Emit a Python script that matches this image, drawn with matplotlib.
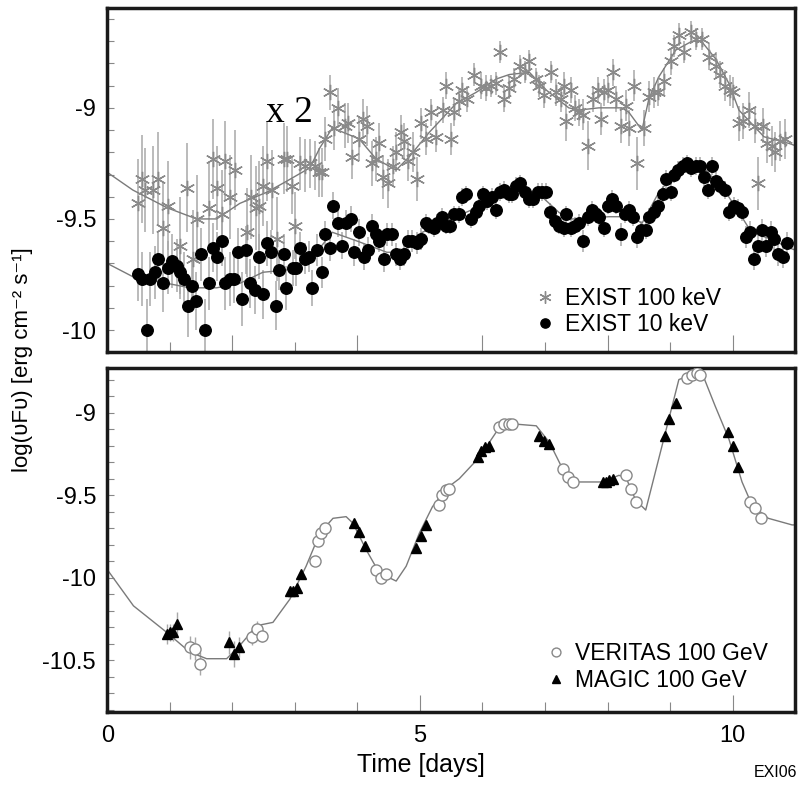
import numpy as np
import matplotlib
matplotlib.use('Agg')
import matplotlib.pyplot as plt
from matplotlib.ticker import MultipleLocator, FixedLocator

plt.rcParams['font.family'] = ['Liberation Sans', 'DejaVu Sans']

# ---- top panel: EXIST 100 keV (x2) ----
hard_day = [0.49, 0.56, 0.61, 0.74, 0.82, 0.90, 0.98, 1.17, 1.28, 1.37, 1.44, 1.62, 1.69, 1.75,
            1.83, 1.89, 1.97, 2.05, 2.23, 2.30, 2.38, 2.43, 2.49, 2.56, 2.63, 2.71, 2.82, 2.87,
            2.96, 3.01, 3.09, 3.17, 3.24, 3.32, 3.39, 3.44, 3.49, 3.56, 3.62, 3.69, 3.80, 3.85,
            3.92, 4.02, 4.09, 4.15, 4.24, 4.30, 4.34, 4.41, 4.49, 4.57, 4.62, 4.70, 4.75, 4.81,
            4.89, 4.95, 5.02, 5.10, 5.18, 5.26, 5.37, 5.41, 5.50, 5.55, 5.63, 5.68, 5.76, 5.87,
            5.98, 6.06, 6.14, 6.22, 6.28, 6.35, 6.43, 6.51, 6.60, 6.68, 6.75, 6.85, 6.91, 6.99,
            7.09, 7.17, 7.25, 7.31, 7.34, 7.41, 7.48, 7.54, 7.60, 7.68, 7.76, 7.84, 7.89, 7.94,
            8.01, 8.08, 8.13, 8.21, 8.29, 8.34, 8.42, 8.47, 8.58, 8.66, 8.74, 8.81, 8.90, 9.01,
            9.06, 9.14, 9.22, 9.33, 9.41, 9.51, 9.62, 9.73, 9.80, 9.88, 9.96, 10.01, 10.10, 10.17,
            10.26, 10.36, 10.40, 10.48, 10.55, 10.63, 10.68, 10.76, 10.84]
hard_flux = [-9.43, -9.32, -9.37, -9.37, -9.32, -9.54, -9.44, -9.62, -9.36, -9.68, -9.50, -9.45, -9.23, -9.36,
             -9.48, -9.24, -9.40, -9.28, -9.56, -9.40, -9.45, -9.44, -9.35, -9.24, -9.37, -9.59, -9.23, -9.23,
             -9.35, -9.53, -9.25, -9.26, -9.25, -9.26, -9.29, -9.29, -9.14, -8.93, -9.09, -9.00, -9.08, -9.07,
             -9.22, -9.14, -9.05, -9.08, -9.25, -9.23, -9.16, -9.31, -9.34, -9.26, -9.20, -9.11, -9.15, -9.24,
             -9.20, -9.32, -9.07, -9.14, -9.02, -9.13, -9.01, -8.90, -9.14, -9.02, -8.97, -8.92, -8.96, -8.85,
             -8.90, -8.91, -8.90, -8.89, -8.75, -8.96, -8.91, -8.87, -8.81, -8.84, -8.79, -8.87, -8.90, -8.94,
             -8.84, -8.93, -8.96, -8.90, -9.06, -8.92, -9.00, -9.02, -9.03, -9.17, -8.96, -8.92, -9.05, -8.93,
             -8.92, -8.84, -8.96, -9.08, -8.99, -9.09, -8.90, -9.25, -9.09, -8.95, -8.93, -8.93, -8.88, -8.79,
             -8.72, -8.67, -8.75, -8.66, -8.69, -8.69, -8.77, -8.81, -8.85, -8.90, -8.92, -8.93, -9.07, -9.06,
             -9.01, -9.08, -9.34, -9.08, -9.16, -9.17, -9.20, -9.15, -9.14]
hard_err = [0.20, 0.20, 0.19, 0.20, 0.21, 0.20, 0.20, 0.22, 0.20, 0.22, 0.20, 0.20, 0.18, 0.19,
            0.20, 0.18, 0.19, 0.18, 0.20, 0.19, 0.19, 0.20, 0.18, 0.18, 0.18, 0.19, 0.16, 0.15,
            0.13, 0.15, 0.12, 0.12, 0.11, 0.11, 0.11, 0.11, 0.10, 0.08, 0.10, 0.09, 0.10, 0.09,
            0.10, 0.10, 0.09, 0.09, 0.10, 0.10, 0.09, 0.10, 0.11, 0.09, 0.09, 0.08, 0.08, 0.09,
            0.09, 0.10, 0.07, 0.07, 0.06, 0.07, 0.06, 0.06, 0.07, 0.06, 0.06, 0.06, 0.06, 0.05,
            0.06, 0.06, 0.05, 0.05, 0.05, 0.06, 0.05, 0.05, 0.05, 0.05, 0.05, 0.05, 0.05, 0.06,
            0.05, 0.06, 0.06, 0.06, 0.09, 0.06, 0.06, 0.06, 0.07, 0.11, 0.06, 0.06, 0.07, 0.06,
            0.06, 0.06, 0.06, 0.08, 0.07, 0.08, 0.07, 0.12, 0.08, 0.07, 0.07, 0.06, 0.06, 0.06,
            0.05, 0.05, 0.05, 0.05, 0.05, 0.05, 0.06, 0.06, 0.06, 0.07, 0.07, 0.07, 0.08, 0.08,
            0.08, 0.08, 0.12, 0.08, 0.09, 0.09, 0.09, 0.09, 0.09]

# ---- top panel: EXIST 10 keV ----
soft_day = [0.49, 0.56, 0.63, 0.69, 0.77, 0.82, 0.90, 0.97, 1.04, 1.11, 1.17, 1.23, 1.29, 1.36,
            1.42, 1.50, 1.56, 1.63, 1.69, 1.75, 1.83, 1.89, 1.96, 2.02, 2.09, 2.15, 2.22, 2.29,
            2.37, 2.42, 2.49, 2.55, 2.62, 2.70, 2.75, 2.82, 2.86, 2.97, 3.02, 3.09, 3.16, 3.23,
            3.28, 3.35, 3.43, 3.49, 3.56, 3.61, 3.69, 3.76, 3.82, 3.89, 3.95, 4.02, 4.10, 4.17,
            4.24, 4.30, 4.35, 4.42, 4.47, 4.56, 4.62, 4.68, 4.75, 4.81, 4.88, 4.95, 5.02, 5.09,
            5.15, 5.22, 5.28, 5.35, 5.42, 5.48, 5.55, 5.63, 5.68, 5.74, 5.82, 5.89, 5.95, 6.01,
            6.08, 6.15, 6.22, 6.28, 6.35, 6.42, 6.48, 6.53, 6.60, 6.68, 6.75, 6.81, 6.88, 6.95,
            7.02, 7.08, 7.16, 7.23, 7.30, 7.34, 7.41, 7.48, 7.54, 7.60, 7.68, 7.75, 7.81, 7.87,
            7.94, 8.01, 8.07, 8.14, 8.21, 8.28, 8.34, 8.40, 8.47, 8.54, 8.61, 8.67, 8.74, 8.81,
            8.88, 8.94, 9.01, 9.06, 9.13, 9.20, 9.27, 9.34, 9.41, 9.47, 9.54, 9.61, 9.67, 9.73,
            9.80, 9.87, 9.94, 10.02, 10.09, 10.15, 10.21, 10.27, 10.34, 10.41, 10.47, 10.54, 10.61, 10.66,
            10.73, 10.80, 10.87]
soft_flux = [-9.75, -9.77, -10.00, -9.77, -9.74, -9.68, -9.79, -9.72, -9.69, -9.71, -9.74, -9.77, -9.89, -9.80,
             -9.87, -9.66, -10.00, -9.79, -9.63, -9.67, -9.60, -9.79, -9.77, -9.77, -9.65, -9.86, -9.64, -9.79,
             -9.82, -9.67, -9.84, -9.61, -9.65, -9.89, -9.73, -9.66, -9.81, -9.72, -9.72, -9.63, -9.68, -9.67,
             -9.81, -9.64, -9.74, -9.57, -9.63, -9.44, -9.52, -9.62, -9.52, -9.50, -9.65, -9.56, -9.67, -9.64,
             -9.53, -9.57, -9.60, -9.68, -9.57, -9.57, -9.66, -9.68, -9.66, -9.60, -9.60, -9.61, -9.59, -9.52,
             -9.53, -9.54, -9.52, -9.49, -9.53, -9.53, -9.48, -9.48, -9.40, -9.39, -9.50, -9.47, -9.44, -9.39,
             -9.42, -9.40, -9.46, -9.38, -9.37, -9.39, -9.39, -9.35, -9.34, -9.38, -9.41, -9.41, -9.38, -9.38,
             -9.38, -9.47, -9.51, -9.53, -9.54, -9.48, -9.54, -9.53, -9.52, -9.60, -9.49, -9.46, -9.48, -9.49,
             -9.54, -9.44, -9.41, -9.44, -9.57, -9.48, -9.46, -9.49, -9.58, -9.55, -9.55, -9.49, -9.47, -9.44,
             -9.39, -9.32, -9.38, -9.30, -9.28, -9.26, -9.25, -9.27, -9.26, -9.26, -9.31, -9.37, -9.26, -9.33,
             -9.35, -9.37, -9.47, -9.44, -9.45, -9.47, -9.58, -9.56, -9.68, -9.62, -9.55, -9.62, -9.56, -9.59,
             -9.66, -9.67, -9.61]
soft_err = [0.12, 0.12, 0.14, 0.12, 0.12, 0.12, 0.13, 0.12, 0.12, 0.12, 0.12, 0.12, 0.14, 0.12,
            0.13, 0.12, 0.14, 0.12, 0.11, 0.11, 0.11, 0.12, 0.12, 0.11, 0.11, 0.12, 0.11, 0.11,
            0.11, 0.10, 0.11, 0.10, 0.10, 0.11, 0.09, 0.09, 0.10, 0.08, 0.08, 0.07, 0.07, 0.07,
            0.08, 0.07, 0.07, 0.06, 0.06, 0.06, 0.06, 0.06, 0.06, 0.06, 0.06, 0.06, 0.06, 0.06,
            0.05, 0.05, 0.05, 0.06, 0.05, 0.05, 0.05, 0.05, 0.05, 0.05, 0.05, 0.05, 0.05, 0.04,
            0.04, 0.04, 0.04, 0.04, 0.04, 0.04, 0.04, 0.04, 0.04, 0.04, 0.04, 0.04, 0.04, 0.04,
            0.04, 0.04, 0.04, 0.04, 0.04, 0.04, 0.04, 0.04, 0.04, 0.04, 0.04, 0.04, 0.04, 0.04,
            0.04, 0.04, 0.04, 0.04, 0.04, 0.04, 0.04, 0.04, 0.04, 0.05, 0.04, 0.04, 0.04, 0.04,
            0.04, 0.04, 0.04, 0.04, 0.05, 0.04, 0.04, 0.04, 0.05, 0.04, 0.04, 0.04, 0.04, 0.04,
            0.04, 0.04, 0.04, 0.04, 0.04, 0.04, 0.04, 0.04, 0.04, 0.04, 0.04, 0.04, 0.04, 0.04,
            0.04, 0.04, 0.04, 0.04, 0.04, 0.04, 0.05, 0.05, 0.05, 0.05, 0.05, 0.05, 0.05, 0.05,
            0.05, 0.05, 0.05]

# model curves (top)
hard_mod_day = [0, 0.41, 0.96, 1.43, 1.75, 2.12, 2.55, 2.87, 3.24, 3.40, 3.60, 4.03, 4.30, 4.62, 4.83,
                5.15, 5.58, 5.90, 6.22, 6.43, 6.75, 7.02, 7.38, 7.54, 7.86, 8.23, 8.34, 8.55, 8.66,
                8.82, 9.09, 9.35, 9.50, 9.73, 9.94, 10.10, 10.30, 10.50, 10.90, 11.0]
hard_mod = [-9.29, -9.37, -9.45, -9.50, -9.50, -9.43, -9.38, -9.33, -9.27, -9.18, -9.09, -9.14, -9.23, -9.28, -9.22,
            -9.11, -8.98, -8.93, -8.87, -8.85, -8.84, -8.92, -9.00, -9.01, -9.00, -9.00, -9.02, -9.10, -8.96,
            -8.86, -8.74, -8.70, -8.70, -8.78, -8.89, -9.01, -9.07, -9.13, -9.16, -9.17]
soft_mod_day = [0, 0.41, 0.96, 1.32, 1.75, 2.12, 2.49, 2.87, 3.29, 3.60, 4.00, 4.47, 4.72, 5.04, 5.58,
                5.90, 6.32, 6.63, 6.95, 7.22, 7.38, 7.54, 8.02, 8.39, 8.55, 8.82, 9.09, 9.35, 9.57,
                9.89, 10.10, 10.30, 10.60, 10.90, 11.0]
soft_mod = [-9.70, -9.76, -9.79, -9.81, -9.81, -9.79, -9.74, -9.73, -9.67, -9.56, -9.60, -9.65, -9.65, -9.56, -9.49,
            -9.45, -9.38, -9.36, -9.40, -9.47, -9.50, -9.50, -9.49, -9.49, -9.52, -9.38, -9.29, -9.26, -9.28,
            -9.38, -9.47, -9.56, -9.59, -9.63, -9.64]

# ---- bottom panel: 100 GeV ----
tev_mod_day = [0, 0.42, 0.95, 1.32, 1.59, 1.91, 2.12, 2.39, 2.65, 2.92, 3.18, 3.40, 3.61, 3.82, 3.93,
               4.14, 4.35, 4.62, 4.78, 4.99, 5.20, 5.42, 5.63, 5.95, 6.27, 6.54, 6.86, 7.07, 7.28,
               7.50, 7.92, 8.18, 8.29, 8.45, 8.61, 9.14, 9.35, 9.51, 9.72, 9.94, 10.15, 10.31, 10.57,
               10.95, 11.0]
tev_mod = [-9.95, -10.17, -10.33, -10.45, -10.49, -10.49, -10.41, -10.29, -10.27, -10.13, -9.93, -9.73, -9.64, -9.63, -9.67,
           -9.83, -9.97, -10.02, -9.93, -9.73, -9.57, -9.46, -9.40, -9.27, -9.09, -9.07, -9.08, -9.18, -9.34,
           -9.42, -9.42, -9.38, -9.39, -9.53, -9.59, -8.80, -8.77, -8.76, -8.96, -9.16, -9.42, -9.56, -9.64,
           -9.68, -9.68]

veritas_day = [1.32, 1.40, 1.48, 2.31, 2.39, 2.47, 3.32, 3.37, 3.42, 3.48, 4.30, 4.38, 4.46,
               5.30, 5.36, 5.42, 5.47, 6.27, 6.35, 6.43, 6.48, 7.28, 7.36, 7.44,
               8.29, 8.37, 8.45, 9.27, 9.35, 9.43, 9.48, 10.28, 10.36, 10.45]
veritas_flux = [-10.42, -10.43, -10.52, -10.36, -10.31, -10.35, -9.90, -9.78, -9.73, -9.70, -9.95, -10.00, -9.98,
                -9.56, -9.50, -9.47, -9.46, -9.09, -9.07, -9.07, -9.07, -9.34, -9.39, -9.42,
                -9.38, -9.46, -9.54, -8.79, -8.77, -8.76, -8.77, -9.54, -9.58, -9.64]
veritas_err = [0.07, 0.07, 0.07, 0.05, 0.05, 0.04, 0.02, 0.02, 0.02, 0.02, 0.02, 0.02, 0.02,
               0.01, 0.01, 0.01, 0.01, 0.01, 0.01, 0.01, 0.01, 0.01, 0.01, 0.01,
               0.01, 0.01, 0.01, 0.01, 0.01, 0.01, 0.01, 0.01, 0.01, 0.01]

magic_day = [0.95, 1.00, 1.06, 1.12, 1.95, 2.03, 2.11, 2.92, 2.97, 3.04, 3.10, 3.94, 4.02, 4.12,
             4.94, 5.02, 5.10, 5.93, 5.98, 6.04, 6.10, 6.91, 6.99, 7.07, 7.92, 7.97, 8.02, 8.08,
             8.92, 8.99, 9.09, 9.93, 10.00, 10.08]
magic_flux = [-10.34, -10.33, -10.33, -10.28, -10.39, -10.46, -10.42, -10.08, -10.08, -10.06, -9.98, -9.67, -9.72, -9.81,
              -9.82, -9.75, -9.68, -9.27, -9.23, -9.21, -9.20, -9.14, -9.17, -9.19, -9.42, -9.42, -9.41, -9.40,
              -9.14, -9.04, -8.94, -9.12, -9.20, -9.33]
magic_err = [0.06, 0.05, 0.05, 0.07, 0.07, 0.08, 0.06, 0.02, 0.02, 0.02, 0.02, 0.01, 0.01, 0.01,
             0.01, 0.01, 0.01, 0.01, 0.01, 0.01, 0.01, 0.01, 0.01, 0.01, 0.01, 0.01, 0.01, 0.01,
             0.01, 0.01, 0.01, 0.01, 0.01, 0.01]

GREY = '#7a7a7a'
EBAR = '#a8a8a8'
STAR = (6, 2, 0)

fig = plt.figure(figsize=(8.0, 7.88), dpi=100)
ax1 = fig.add_axes([0.134, 0.553, 0.860, 0.437])
ax2 = fig.add_axes([0.134, 0.097, 0.860, 0.436])

# top panel
ax1.plot(hard_mod_day, hard_mod, color=GREY, lw=1.0, zorder=2)
ax1.plot(soft_mod_day, soft_mod, color=GREY, lw=1.0, zorder=2)
ax1.errorbar(hard_day, hard_flux, yerr=hard_err, fmt='none', ecolor=EBAR, elinewidth=1.1, zorder=1)
ax1.errorbar(soft_day, soft_flux, yerr=soft_err, fmt='none', ecolor=EBAR, elinewidth=1.1, zorder=1)
ax1.plot(hard_day, hard_flux, ls='none', marker=STAR, ms=11, mec='#8a8a8a', mew=1.0,
         label='EXIST 100 keV', zorder=3)
ax1.plot(soft_day, soft_flux, ls='none', marker='o', ms=8.3, mfc='black', mec='black',
         label='EXIST 10 keV', zorder=4)
ax1.text(2.92, -9.02, 'x 2', family='Liberation Serif', fontsize=27, ha='center', va='center')
ax1.set_ylim(-10.1, -8.55)
ax1.set_yticks([-10, -9.5, -9])
ax1.set_yticklabels(['-10', '-9.5', '-9'])
ax1.set_xticklabels([])
ax1.legend(loc='lower left', bbox_to_anchor=(0.60, 0.008), frameon=False, fontsize=16.5,
           handletextpad=0.35, labelspacing=0.12, handlelength=1.0, borderpad=0.1, markerscale=0.8)

# bottom panel
ax2.plot(tev_mod_day, tev_mod, color=GREY, lw=1.0, zorder=2)
ax2.errorbar(veritas_day, veritas_flux, yerr=veritas_err, fmt='none', ecolor=EBAR, elinewidth=1.0, zorder=1)
ax2.errorbar(magic_day, magic_flux, yerr=magic_err, fmt='none', ecolor=EBAR, elinewidth=1.0, zorder=1)
ax2.plot(veritas_day, veritas_flux, ls='none', marker='o', ms=8, mfc='white', mec='#888888', mew=1.0,
         label='VERITAS 100 GeV', zorder=3)
ax2.plot(magic_day, magic_flux, ls='none', marker='^', ms=7, mfc='black', mec='black',
         label='MAGIC 100 GeV', zorder=4)
ax2.set_ylim(-10.81, -8.73)
ax2.set_yticks([-10.5, -10, -9.5, -9])
ax2.set_yticklabels(['-10.5', '-10', '-9.5', '-9'])
ax2.set_xticks([0, 5, 10])
ax2.set_xticklabels(['0', '5', '10'])
ax2.set_xlabel('Time [days]', fontsize=18)
ax2.xaxis.set_label_coords(0.456, -0.122)
ax2.legend(loc='lower left', bbox_to_anchor=(0.615, 0.018), frameon=False, fontsize=16.5,
           handletextpad=0.35, labelspacing=0.16, handlelength=1.0, borderpad=0.1, markerscale=0.8)

for ax in (ax1, ax2):
    ax.set_xlim(0, 11)
    ax.yaxis.set_minor_locator(MultipleLocator(0.1))
    ax.xaxis.set_minor_locator(FixedLocator([1, 2, 3, 4, 6, 7, 8, 9]))
    ax.tick_params(axis='both', which='both', direction='in', color='#888888', width=0.8,
                   top=False, right=False, labelsize=17)
    ax.tick_params(axis='x', which='major', length=12, pad=10)
    ax.tick_params(axis='x', which='minor', length=7)
    ax.tick_params(axis='y', which='both', length=5, pad=8)
    for s in ax.spines.values():
        s.set_linewidth(2.5)
        s.set_color('#1a1a1a')

fig.text(0.028, 1 - 360 / 788, 'log(υFυ) [erg cm⁻² s⁻¹]', rotation=90, fontsize=16,
         ha='center', va='center')
fig.text(0.997, 0.010, 'EXI06', fontsize=11.5, ha='right', va='bottom')

fig.savefig('out.png', dpi=100)
